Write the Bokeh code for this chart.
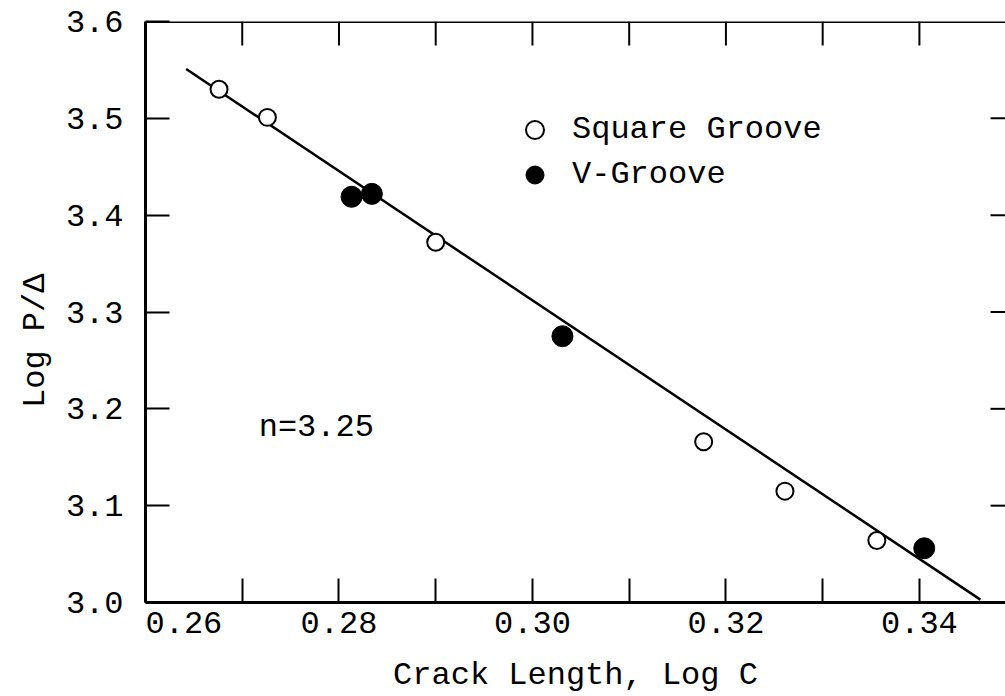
import math
from bokeh.plotting import figure
from bokeh.models import (FixedTicker, LinearAxis, Legend, LegendItem, Label,
                          Range1d, Span)
from bokeh.embed import file_html
from bokeh.resources import INLINE

# ---- data ----
square_x = [0.2676, 0.2726, 0.2900, 0.3177, 0.3261, 0.3356]
square_y = [3.530, 3.501, 3.372, 3.166, 3.115, 3.064]
vgroove_x = [0.2813, 0.2834, 0.3031, 0.3405]
vgroove_y = [3.419, 3.422, 3.275, 3.056]
fit_x = [0.2642, 0.3463]
fit_y = [3.551, 3.003]

x_major = [0.26, 0.28, 0.30, 0.32, 0.34]
x_minor = [0.27, 0.29, 0.31, 0.33]
x_labels = ["\u00a0\u00a0\u00a0\u00a00.26", "0.28", "0.30", "0.32", "0.34"]
x_top = [0.27, 0.28, 0.29, 0.30, 0.31, 0.32, 0.33, 0.34]
y_ticks = [3.0, 3.1, 3.2, 3.3, 3.4, 3.5, 3.6]
y_labels = ["3.0", "3.1", "3.2", "3.3", "3.4", "3.5", "3.6"]
y_right = [3.1, 3.2, 3.3, 3.4, 3.5]

FONT = "Liberation Mono"
X0, X1, Y0, Y1 = 0.26, 0.3489, 3.0, 3.6

p = figure(width=1005, height=696, output_backend="svg", toolbar_location=None,
           x_range=Range1d(X0, X1), y_range=Range1d(Y0, Y1),
           x_axis_type=None, y_axis_type=None,
           min_border_left=145, min_border_right=0, min_border_top=21,
           min_border_bottom=94)
p.grid.visible = False
p.outline_line_color = None
p.background_fill_color = "white"
p.border_fill_color = "white"

def style(ax, ticks, minor=None):
    ax.ticker = FixedTicker(ticks=ticks, minor_ticks=minor or [])
    ax.axis_line_color = "black"
    ax.axis_line_width = 3
    ax.major_tick_in = 24
    ax.major_tick_out = 0
    ax.minor_tick_in = 24
    ax.minor_tick_out = 0
    ax.major_tick_line_width = 2
    ax.minor_tick_line_width = 2
    ax.major_label_text_font = FONT
    ax.major_label_text_font_size = "32px"
    ax.major_label_text_color = "black"
    ax.axis_label_text_font = FONT
    ax.axis_label_text_font_size = "32px"
    ax.axis_label_text_font_style = "normal"
    ax.axis_label_text_color = "black"

xb = LinearAxis(axis_label="Crack Length, Log C")
style(xb, x_major, x_minor)
xb.major_label_overrides = dict(zip(x_major, x_labels))
xb.major_label_standoff = 3
xb.axis_label_standoff = 11
p.add_layout(xb, "below")

yl = LinearAxis(axis_label="Log P/Δ\u00a0\u00a0\u00a0")
style(yl, y_ticks)
yl.major_label_overrides = dict(zip(y_ticks, y_labels))
yl.major_label_standoff = 22
yl.axis_label_standoff = 9
p.add_layout(yl, "left")

# top border and inward ticks on top / right sides
p.add_layout(Span(location=Y1, dimension="width", line_color="black", line_width=3))
p.ray(x=x_top, y=[Y1] * len(x_top), length=24, angle=-math.pi / 2,
      length_units="screen", line_color="black", line_width=2)
p.ray(x=[X1] * len(y_right), y=y_right, length=15, angle=math.pi,
      length_units="screen", line_color="black", line_width=2)

p.line(fit_x, fit_y, line_color="black", line_width=2.5)
r_sq = p.scatter(square_x, square_y, marker="circle", size=17, fill_color="white",
                 line_color="black", line_width=2)
r_v = p.scatter(vgroove_x, vgroove_y, marker="circle", size=21, fill_color="black",
                line_color="black", line_width=1)

legend = Legend(items=[LegendItem(label="Square Groove", renderers=[r_sq]),
                       LegendItem(label="V-Groove", renderers=[r_v])],
                location=(367, 405), orientation="vertical",
                glyph_width=45, glyph_height=45, spacing=0, padding=0, margin=0,
                label_standoff=15, label_text_font=FONT, label_text_font_size="32px",
                label_text_color="black", border_line_color=None,
                background_fill_alpha=0)
p.add_layout(legend, "center")

p.add_layout(Label(x=0.2717, y=3.181, text="n=3.25", text_font=FONT,
                   text_font_size="32px", text_color="black",
                   text_align="left", text_baseline="middle"))

open("out.html", "w").write(file_html(p, INLINE))
